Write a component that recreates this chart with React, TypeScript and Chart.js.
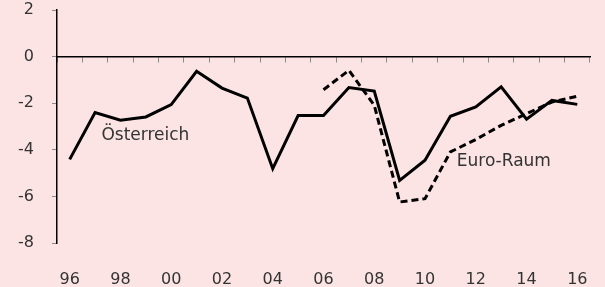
import React, { useEffect, useRef } from "react";
import { Chart, registerables } from "chart.js";

Chart.register(...registerables);

const yearLabels = ["96","97","98","99","00","01","02","03","04","05","06","07","08","09","10","11","12","13","14","15","16"];
const oesterreich = [-4.41,-2.40,-2.73,-2.59,-2.06,-0.63,-1.35,-1.78,-4.81,-2.53,-2.53,-1.33,-1.48,-5.31,-4.45,-2.56,-2.16,-1.30,-2.69,-1.88,-2.05];
const euroRaum = [null,null,null,null,null,null,null,null,null,null,-1.42,-0.59,-2.09,-6.24,-6.10,-4.09,-3.56,-2.95,-2.45,-1.95,-1.70];
const yMin = -8;
const yMax = 2;
const yStep = 2;
const seriesNames = ["Österreich", "Euro-Raum"];
const nameAnchors = [
  { x: 1.25, y: -3.38 },
  { x: 15.25, y: -4.49 },
];

const BG = "#fde4e4";
const TEXT = "#333333";
const FONT = "'DejaVu Sans', sans-serif";

export default function App() {
  const ref = useRef<HTMLCanvasElement | null>(null);
  useEffect(() => {
    document.body.style.margin = "0";
    const canvas = ref.current;
    if (!canvas) return;
    const namePlugin = {
      id: "seriesNames",
      afterDatasetsDraw(chart: any) {
        const ctx = chart.ctx;
        const xs = chart.scales.x;
        const ys = chart.scales.y;
        ctx.save();
        ctx.fillStyle = TEXT;
        ctx.font = `17px ${FONT}`;
        ctx.textAlign = "left";
        ctx.textBaseline = "middle";
        seriesNames.forEach((n, i) => {
          const a = nameAnchors[i];
          ctx.fillText(n, xs.getPixelForValue(a.x), ys.getPixelForValue(a.y));
        });
        ctx.restore();
      },
    };
    const chart = new Chart(canvas, {
      type: "line",
      data: {
        labels: yearLabels,
        datasets: [
          {
            label: seriesNames[0],
            data: oesterreich,
            borderColor: "#000",
            borderWidth: 3,
            pointRadius: 0,
            tension: 0,
            fill: false,
          },
          {
            label: seriesNames[1],
            data: euroRaum as any,
            borderColor: "#000",
            borderWidth: 3,
            borderDash: [7, 4],
            pointRadius: 0,
            tension: 0,
            fill: false,
          },
        ],
      },
      options: {
        animation: false,
        responsive: false,
        maintainAspectRatio: false,
        events: [],
        layout: { padding: { top: 10, right: 15, left: 0, bottom: 0 } },
        plugins: { legend: { display: false }, tooltip: { enabled: false } },
        scales: {
          x: {
            type: "category",
            position: "bottom",
            offset: true,
            grid: { display: false, drawTicks: false },
            border: { display: false },
            ticks: {
              autoSkip: false,
              maxRotation: 0,
              padding: 27,
              color: TEXT,
              font: { family: FONT, size: 16 },
              callback: (_v: any, i: number) => (i % 2 === 0 ? yearLabels[i] : ""),
            },
            afterFit: (s: any) => {
              s.height = 44;
              s.paddingLeft = 0;
              s.paddingRight = 0;
            },
          },
          x2: {
            type: "category",
            position: { y: 0 } as any,
            offset: true,
            grid: {
              offset: true,
              drawOnChartArea: false,
              drawTicks: true,
              tickLength: 5,
              color: "#8a8a8a",
              lineWidth: 1,
            },
            border: { display: true, color: "#000", width: 1.5 },
            ticks: { display: false },
          },
          y: {
            min: yMin,
            max: yMax,
            grid: {
              drawOnChartArea: false,
              drawTicks: true,
              tickLength: 5,
              color: "#8a8a8a",
              lineWidth: 1,
            },
            border: { display: true, color: "#000", width: 1.5 },
            ticks: {
              stepSize: yStep,
              padding: 18,
              color: TEXT,
              font: { family: FONT, size: 16 },
            },
            afterFit: (s: any) => {
              s.width = 57;
              s.paddingTop = 0;
              s.paddingBottom = 0;
            },
          },
        },
      },
      plugins: [namePlugin],
    });
    return () => chart.destroy();
  }, []);
  return (
    <div style={{ width: 605, height: 287, background: BG }}>
      <canvas ref={ref} width={605} height={287} style={{ display: "block" }} />
    </div>
  );
}
